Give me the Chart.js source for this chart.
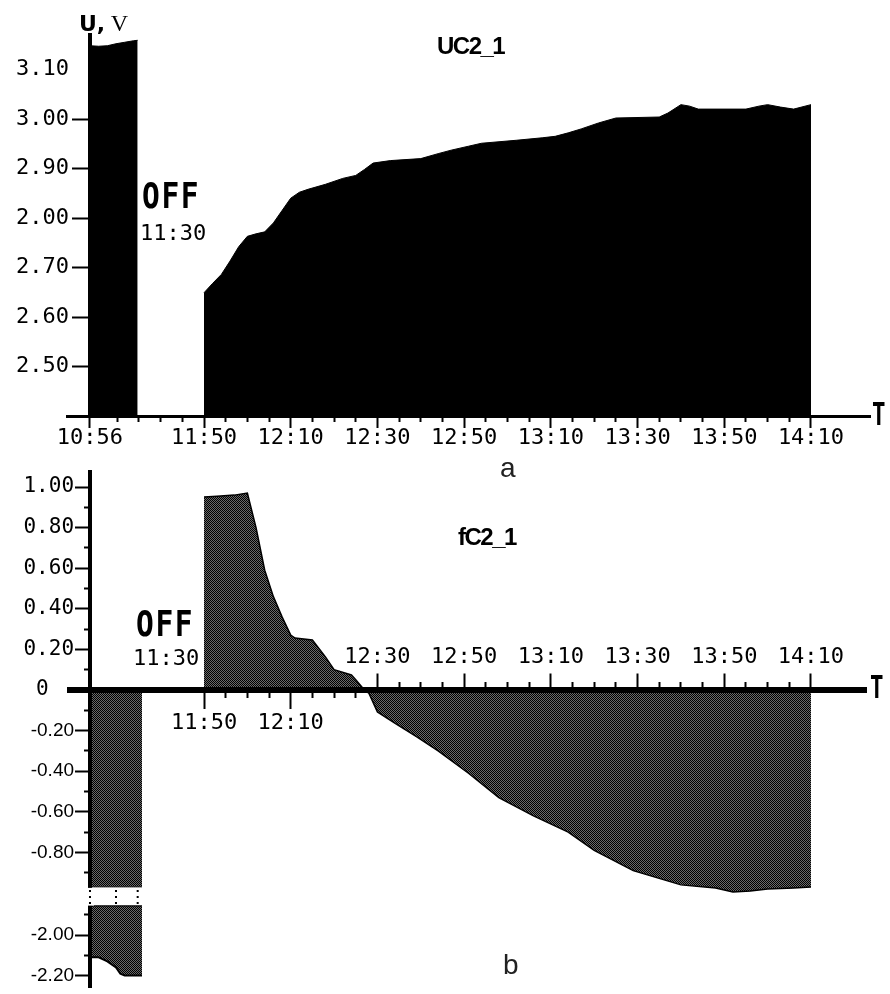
<!DOCTYPE html>
<html>
<head>
<meta charset="utf-8">
<title>UC2_1 / fC2_1</title>
<script src="https://cdn.jsdelivr.net/npm/chart.js@4.4.1/dist/chart.umd.min.js"></script>
<style>
html,body{margin:0;padding:0;background:#fff;overflow:hidden;}
#wrap{position:relative;width:890px;height:994px;overflow:hidden;background:#fff;}
#wrap canvas{position:absolute;left:0;top:0;}
.lbl{position:absolute;color:#000;white-space:nowrap;line-height:1;}
.mono{font-family:'DejaVu Sans Mono',monospace;font-size:22px;}
.off{font-family:'DejaVu Sans Mono',monospace;font-weight:bold;font-size:36px;transform:scaleX(0.82);transform-origin:0 0;letter-spacing:2px;}
.tt{font-family:'DejaVu Sans Mono',monospace;font-weight:bold;font-size:32px;transform:scaleX(0.7);transform-origin:0 0;}
.ttl{font-family:'Liberation Sans',Arial,sans-serif;font-weight:bold;font-size:24px;letter-spacing:-1.5px;}
.pl{font-family:'Liberation Sans',Arial,sans-serif;font-size:28px;color:#222;}
</style>
</head>
<body>
<div id="wrap">
  <canvas id="chartA" width="890" height="1020"></canvas>
  <canvas id="chartB" width="890" height="1020"></canvas>
  <div class="lbl" style="left:79px;top:10px;font:bold 22px 'DejaVu Sans',sans-serif;">U,<span style="font:normal 24px 'Liberation Serif',serif;"> V</span></div>
  <div class="lbl ttl" style="left:437px;top:34px;">UC2_1</div>
  <div class="lbl off" style="left:142px;top:178px;">OFF</div>
  <div class="lbl mono" style="left:140px;top:222px;">11:30</div>
  <div class="lbl tt" style="left:872px;top:398px;">T</div>
  <div class="lbl pl" style="left:500px;top:454px;">a</div>
  <div class="lbl ttl" style="left:458px;top:525px;">fC2_1</div>
  <div class="lbl off" style="left:136px;top:606px;">OFF</div>
  <div class="lbl mono" style="left:133px;top:647px;">11:30</div>
  <div class="lbl tt" style="left:870px;top:671px;">T</div>
  <div class="lbl pl" style="left:503px;top:951px;">b</div>
</div>
<script>
// ---------------- Panel a : UC2_1, U (V) ----------------
const aTickLabels = ['10:56','11:50','12:10','12:30','12:50','13:10','13:30','13:50','14:10'];
const aYTickValues = [2.5, 2.6, 2.7, 2.8, 2.9, 3.0, 3.1];
const aYTickLabels = ['2.50','2.60','2.70','2.00','2.90','3.00','3.10'];
const aTimesBefore = ['10:56','10:58','11:00','11:02','11:04','11:06','11:07'];
const aValuesBefore = [3.148, 3.147, 3.148, 3.152, 3.155, 3.158, 3.159];
const aTimesAfter = ['11:50','11:52','11:54','11:56','11:58','12:00','12:02','12:04','12:06','12:08',
                     '12:10','12:12','12:14','12:18','12:22','12:25','12:27','12:29','12:33','12:40',
                     '12:44','12:47','12:51','12:54','13:02','13:08','13:11','13:14','13:17','13:21',
                     '13:25','13:35','13:37','13:40','13:42','13:44','13:55','13:58','14:00','14:03',
                     '14:06','14:10'];
const aValuesAfter = [2.649, 2.668, 2.686, 2.713, 2.742, 2.763, 2.768, 2.772, 2.790, 2.815,
                      2.840, 2.852, 2.858, 2.868, 2.880, 2.886, 2.898, 2.911, 2.916, 2.920,
                      2.930, 2.937, 2.945, 2.951, 2.957, 2.962, 2.965, 2.972, 2.980, 2.992,
                      3.002, 3.004, 3.012, 3.029, 3.026, 3.020, 3.020, 3.026, 3.029, 3.024,
                      3.020, 3.029];

// ---------------- Panel b : fC2_1 ----------------
const bTickLabelsBelow = ['11:50','12:10'];
const bTickLabelsAbove = ['12:30','12:50','13:10','13:30','13:50','14:10'];
const bYTickValues = [1.0, 0.8, 0.6, 0.4, 0.2, 0, -0.2, -0.4, -0.6, -0.8, -2.0, -2.2];
const bYTickLabels = ['1.00','0.80','0.60','0.40','0.20','0','-0.20','-0.40','-0.60','-0.80','-2.00','-2.20'];
const bYMinorValues = [0.9, 0.7, 0.5, 0.3, 0.1, -0.1, -0.3, -0.5, -0.7, -0.9, -1.9, -2.1];
const bTimesBefore = ['10:56','10:58','11:00','11:02','11:03','11:04','11:08'];
const bValuesBefore = [-2.11, -2.11, -2.13, -2.16, -2.19, -2.20, -2.20];
const bTimesAfter = ['11:50','11:53','11:57','12:00','12:02','12:04','12:06','12:08','12:10','12:11',
                     '12:15','12:18','12:20','12:24','12:25','12:27','12:28','12:30','12:34','12:39',
                     '12:44','12:51','12:58','13:06','13:14','13:20','13:29','13:40','13:48','13:52',
                     '13:56','14:00','14:06','14:10'];
const bValuesAfter = [0.951, 0.955, 0.960, 0.970, 0.80, 0.59, 0.46, 0.36, 0.27, 0.256,
                      0.246, 0.163, 0.10, 0.074, 0.05, 0.00, -0.015, -0.108, -0.163, -0.23,
                      -0.30, -0.41, -0.53, -0.62, -0.70, -0.79, -0.89, -0.96, -0.975, -0.995,
                      -0.99, -0.98, -0.975, -0.97];
const bBreakMarkTimes = ['10:56','11:02','11:07'];

// ---------------- axis breaks ----------------
const X_RESUME = '11:50';      // time axis is continuous from here
const X_GAP_SHIFT = 27.7;      // minutes cut out of the OFF gap
const Y_BREAK_HI = -0.97, Y_BREAK_LO = -1.86, Y_GAP_SHIFT = 0.793;

// axis ranges (axis units)
const XA = {min: 678.40, max: 863.61};
const XB = {min: 679.09, max: 862.69};
const YA = {min: 2.40, max: 3.1697};
const YB = {min: -1.4631, max: 1.0739};
const YA_LABEL_X = 678.86, YB_LABEL_X = 680.02;

function mins(s){ const p = s.split(':'); return (+p[0]) * 60 + (+p[1]); }
function tx(s){ const m = mins(s); return m < mins(X_RESUME) ? m + X_GAP_SHIFT : m; }
function ty(v){ return v < (Y_BREAK_HI + Y_BREAK_LO) / 2 ? v + Y_GAP_SHIFT : v; }
function pts(times, values, f){ return times.map((t, i) => ({x: tx(t), y: f ? f(values[i]) : values[i]})); }
function stepTicks(from, to, step, skip){
  const out = [];
  for (let v = from; v <= to + 1e-9; v += step) if (!skip.some(s => Math.abs(s - v) < 0.5)) out.push(v);
  return out;
}
function halftone(canvas){
  const c = document.createElement('canvas'); c.width = 2; c.height = 2;
  const g = c.getContext('2d');
  g.fillStyle = '#6a6a6a'; g.fillRect(0, 0, 2, 2);
  g.fillStyle = '#000'; g.fillRect(0, 0, 1, 1); g.fillRect(1, 1, 1, 1);
  return canvas.getContext('2d').createPattern(c, 'repeat');
}

const MONO = "'DejaVu Sans Mono', monospace";
const SANS = "'Liberation Sans', Arial, sans-serif";
const blank = () => '';
const baseOpts = {
  responsive: false, maintainAspectRatio: false, animation: false, devicePixelRatio: 1, events: [],
  plugins: {legend: {display: false}, tooltip: {enabled: false}, title: {display: false}},
  elements: {point: {radius: 0}, line: {tension: 0}}
};

function axis(o){
  return {
    type: 'linear', axis: o.axis, min: o.range.min, max: o.range.max, position: o.position,
    border: Object.assign({display: false, color: '#000', z: 1}, o.border || {}),
    grid: Object.assign({display: true, drawOnChartArea: false, drawTicks: true, tickLength: 8,
                         tickWidth: 2, tickColor: '#000', z: 1}, o.grid || {}),
    ticks: Object.assign({autoSkip: false, maxRotation: 0, minRotation: 0, padding: 0, color: '#000',
                          font: {family: MONO, size: 22}, callback: blank, z: 1}, o.ticks || {}),
    afterBuildTicks: s => { s.ticks = o.values.map(v => ({value: v})); }
  };
}

// ================= Chart a =================
const aMajorX = aTickLabels.map(tx);
const aMinorX = stepTicks(tx(X_RESUME) - 20, tx('14:05'), 5, aMajorX);
const canvasA = document.getElementById('chartA');
new Chart(canvasA, {
  type: 'line',
  data: {datasets: [
    {label: 'UC2_1 (before OFF)', data: pts(aTimesBefore, aValuesBefore), xAxisID: 'x', yAxisID: 'y',
     fill: 'start', backgroundColor: '#000', borderColor: '#000', borderWidth: 1, pointRadius: 0},
    {label: 'UC2_1', data: pts(aTimesAfter, aValuesAfter), xAxisID: 'x', yAxisID: 'y',
     fill: 'start', backgroundColor: '#000', borderColor: '#000', borderWidth: 1, pointRadius: 0}
  ]},
  options: Object.assign({}, baseOpts, {
    layout: {padding: {left: 67, right: 20, top: 35, bottom: 1020 - 416}},
    scales: {
      x: axis({axis: 'x', range: XA, position: {y: YA.min}, values: aMajorX,
               border: {display: true, width: 3}, grid: {tickLength: 10},
               ticks: {padding: -1, callback: (v, i) => aTickLabels[i]}}),
      xm: axis({axis: 'x', range: XA, position: {y: YA.min}, values: aMinorX, grid: {tickLength: 6}}),
      y: axis({axis: 'y', range: YA, position: {x: tx('10:56')}, values: aYTickValues,
               border: {display: true, width: 4},
               grid: {tickLength: 16, tickColor: c => (c.tick && c.tick.value === 3.1) ? 'rgba(0,0,0,0)' : '#000'}}),
      yl: axis({axis: 'y', range: YA, position: {x: YA_LABEL_X}, values: aYTickValues,
                grid: {display: false, drawTicks: false},
                ticks: {callback: (v, i) => aYTickLabels[i]}})
    }
  })
});

// ================= Chart b =================
const canvasB = document.getElementById('chartB');
const pat = halftone(canvasB);
const bBelowX = bTickLabelsBelow.map(tx);
const bAboveX = bTickLabelsAbove.map(tx);
const bMinorDown = stepTicks(tx('11:55'), tx('12:25'), 5, bBelowX);
const bMinorUp = stepTicks(tx('12:35'), tx('14:05'), 5, bAboveX);
const bBarStart = bTimesBefore[0], bBarEnd = bTimesBefore[bTimesBefore.length - 1];

const breakPlugin = {
  id: 'axisBreak',
  afterDraw(chart){
    const {ctx, scales} = chart;
    const x = scales.x, y = scales.y;
    const y1 = y.getPixelForValue(Y_BREAK_HI) + 1;
    const y2 = y.getPixelForValue(ty(Y_BREAK_LO)) - 1;
    const ax = x.getPixelForValue(tx(bBarStart));
    ctx.save();
    ctx.fillStyle = '#fff';
    ctx.fillRect(ax - 4, y1, 8, y2 - y1);
    ctx.strokeStyle = '#000'; ctx.lineWidth = 2; ctx.setLineDash([2, 4]);
    bBreakMarkTimes.forEach(t => {
      const px = x.getPixelForValue(tx(t));
      ctx.beginPath(); ctx.moveTo(px, y1 + 2); ctx.lineTo(px, y2); ctx.stroke();
    });
    ctx.restore();
  }
};

new Chart(canvasB, {
  type: 'line',
  data: {datasets: [
    {label: 'fC2_1', data: pts(bTimesAfter, bValuesAfter), xAxisID: 'x', yAxisID: 'y',
     fill: 'origin', backgroundColor: pat, borderColor: '#000', borderWidth: 1.5, pointRadius: 0},
    {label: 'fC2_1 (before OFF, upper)', data: [{x: tx(bBarStart), y: Y_BREAK_HI}, {x: tx(bBarEnd), y: Y_BREAK_HI}],
     xAxisID: 'x', yAxisID: 'y', fill: 'origin', backgroundColor: pat, borderColor: '#222', borderWidth: 1, pointRadius: 0},
    {label: 'fC2_1 (before OFF)', data: pts(bTimesBefore, bValuesBefore, ty), xAxisID: 'x', yAxisID: 'y',
     fill: {value: ty(Y_BREAK_LO)}, backgroundColor: pat, borderColor: '#000', borderWidth: 2, pointRadius: 0},
    {label: 'break edge', data: [{x: tx(bBarStart), y: ty(Y_BREAK_LO)}, {x: tx(bBarEnd), y: ty(Y_BREAK_LO)}],
     xAxisID: 'x', yAxisID: 'y', fill: false, borderColor: '#000', borderWidth: 2.5, pointRadius: 0}
  ]},
  options: Object.assign({}, baseOpts, {
    layout: {padding: {left: 70, right: 24, top: 472, bottom: 1020 - 987}},
    scales: {
      x: axis({axis: 'x', range: XB, position: {y: 0}, values: bBelowX,
               border: {display: true, width: 6}, grid: {tickLength: 16},
               ticks: {padding: 4, callback: (v, i) => bTickLabelsBelow[i]}}),
      xd: axis({axis: 'x', range: XB, position: {y: 0}, values: bMinorDown, grid: {tickLength: 8}}),
      xu: axis({axis: 'x', range: XB, position: {y: 0}, values: bAboveX, grid: {tickLength: -16.5},
                ticks: {padding: -29, callback: (v, i) => bTickLabelsAbove[i]}}),
      xum: axis({axis: 'x', range: XB, position: {y: 0}, values: bMinorUp, grid: {tickLength: -8}}),
      y: axis({axis: 'y', range: YB, position: {x: tx('10:56')}, values: bYTickValues.map(ty),
               border: {display: true, width: 4}, grid: {tickLength: 13}}),
      ym: axis({axis: 'y', range: YB, position: {x: tx('10:56')}, values: bYMinorValues.map(ty),
                grid: {tickLength: 6}}),
      yl: axis({axis: 'y', range: YB, position: {x: YB_LABEL_X}, values: bYTickValues.map(ty),
                grid: {display: false, drawTicks: false},
                ticks: {
                  font: c => (c.tick && c.tick.value < 0) ? {family: SANS, size: 19} : {family: MONO, size: 21},
                  callback: (v, i) => bYTickLabels[i] === '0' ? '0  ' : bYTickLabels[i]
                }})
    }
  }),
  plugins: [breakPlugin]
});
</script>
</body>
</html>
